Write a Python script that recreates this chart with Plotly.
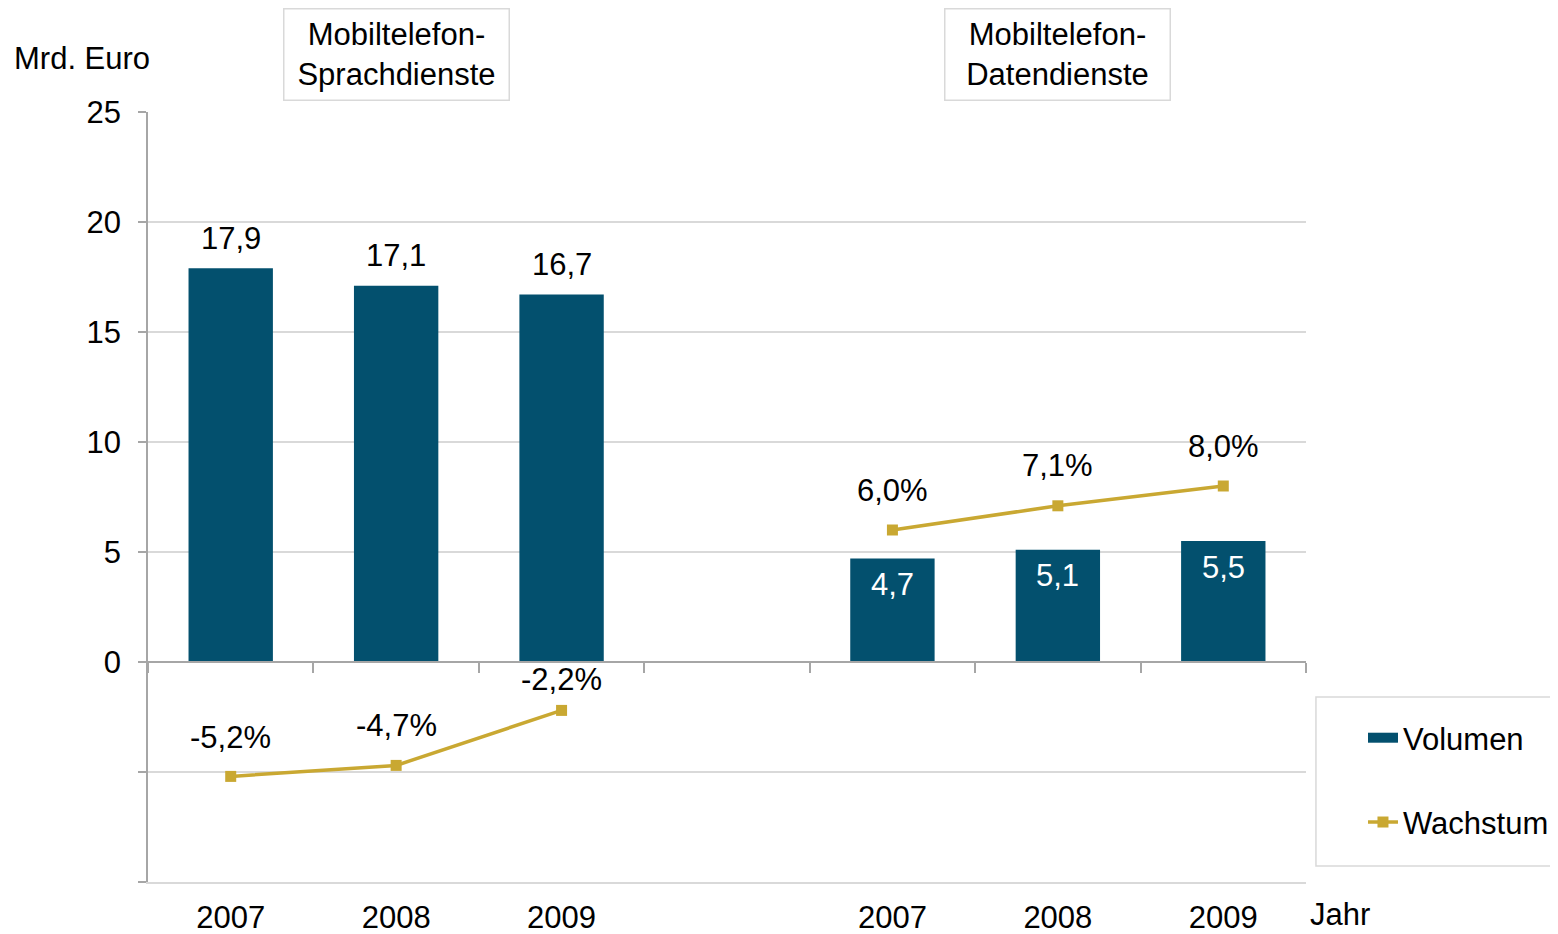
import plotly.graph_objects as go

# ---- data ----
segments = ["Mobiltelefon-Sprachdienste", "Mobiltelefon-Datendienste"]
years = ["2007", "2008", "2009"]
volumen_sprache = [17.9, 17.1, 16.7]
volumen_daten = [4.7, 5.1, 5.5]
wachstum_sprache = [-5.2, -4.7, -2.2]
wachstum_daten = [6.0, 7.1, 8.0]
y_ticks = [-10, -5, 0, 5, 10, 15, 20, 25]
y_unit = "Mrd. Euro"
x_unit = "Jahr"

# ---- styles ----
BAR = "#03506E"
LINE = "#C9A832"
GRID = "#D9D9D9"
AXIS = "#A6A6A6"
FONT = "Liberation Sans, Arial, sans-serif"
FS = 31

def de(v, pct=False):
    s = f"{v:.1f}".replace(".", ",")
    return s + "%" if pct else s

volumes = [volumen_sprache, volumen_daten]
growths = [wachstum_sprache, wachstum_daten]
slot_gap = len(years) + 1
n_slots = len(segments) * slot_gap - 1

bx, by, lx, ly, tickvals, ticktext = [], [], [], [], [], []
for g in range(len(segments)):
    for i, yr in enumerate(years):
        s = g * slot_gap + i
        bx.append(s); by.append(volumes[g][i])
        lx.append(s); ly.append(growths[g][i])
        tickvals.append(s); ticktext.append(yr)
    if g < len(segments) - 1:
        lx.append(None); ly.append(None)

fig = go.Figure()
fig.add_trace(go.Bar(x=bx, y=by, width=0.51, marker=dict(color=BAR, line=dict(width=0)),
                     name="Volumen", showlegend=False, hoverinfo="skip"))
# legend swatch for the bars (wide rectangle like the reference)
fig.add_trace(go.Scatter(x=[None], y=[None], mode="lines", name="Volumen", legendgroup="a",
                         line=dict(color=BAR, width=18), hoverinfo="skip"))
fig.add_trace(go.Scatter(x=lx, y=ly, mode="lines+markers", name="Wachstum", legendgroup="b",
                         line=dict(color=LINE, width=3.5),
                         marker=dict(symbol="square", size=11, color=LINE),
                         hoverinfo="skip", connectgaps=False))
# dummy trace for the zero-line axis with category separators
fig.add_trace(go.Scatter(x=[None], y=[None], xaxis="x2", showlegend=False, hoverinfo="skip"))

annotations = []
# bar value labels
for g in range(len(segments)):
    for i in range(len(years)):
        s = g * slot_gap + i
        v = volumes[g][i]
        outside = g == 0
        annotations.append(dict(x=s, y=v, xref="x", yref="y", text=de(v), showarrow=False,
                                yanchor="middle", yshift=30 if outside else -26,
                                font=dict(size=FS, color="black" if outside else "white")))
# growth labels
shift = [[39, 40, 31], [40, 40, 40]]
for g in range(len(segments)):
    for i in range(len(years)):
        s = g * slot_gap + i
        v = growths[g][i]
        annotations.append(dict(x=s, y=v, xref="x", yref="y", text=de(v, True), showarrow=False,
                                yanchor="middle", yshift=shift[g][i],
                                font=dict(size=FS, color="black")))
# segment boxes
for g, seg in enumerate(segments):
    a, b = seg.split("-", 1)
    annotations.append(dict(x=g * slot_gap + 1, y=1.0753, xref="x", yref="paper",
                            text=f"{a}-<br>{b}", showarrow=False, yanchor="middle",
                            bordercolor=GRID, borderwidth=1.5, borderpad=2,
                            width=220, height=86, bgcolor="white",
                            font=dict(size=FS, color="black")))
annotations.append(dict(x=-0.1175, y=1.070, xref="paper", yref="paper", text=y_unit,
                        showarrow=False, xanchor="left", yanchor="middle",
                        font=dict(size=FS, color="black")))
annotations.append(dict(x=1.0017, y=-0.0416, xref="paper", yref="paper", text=x_unit,
                        showarrow=False, xanchor="left", yanchor="middle",
                        font=dict(size=FS, color="black")))

# legend frame
shapes = [dict(type="rect", xref="paper", yref="paper", x0=1.0086, x1=1.222,
               y0=0.0208, y1=0.2403, line=dict(color=GRID, width=1.5), fillcolor="white",
               layer="below")]

# page body adds an 8px offset; figure sized so the plot lands at the same pixels
fig.update_layout(
    width=1550, height=926,
    margin=dict(l=140, r=252, t=104, b=52, autoexpand=False),
    plot_bgcolor="white", paper_bgcolor="white",
    font=dict(family=FONT, size=FS, color="black"),
    showlegend=True,
    legend=dict(x=1.0492, y=0.222, xanchor="left", yanchor="top",
                borderwidth=0, bgcolor="rgba(0,0,0,0)",
                font=dict(size=FS, color="black"), traceorder="grouped",
                tracegroupgap=41),
    annotations=annotations,
    shapes=shapes,
    xaxis=dict(range=[-0.5, n_slots - 0.5], tickvals=tickvals, ticktext=ticktext,
               showgrid=False, zeroline=False, ticks="", showline=True,
               linecolor=GRID, linewidth=1.5, ticklabelstandoff=7, automargin=False,
               tickfont=dict(size=FS, color="black")),
    xaxis2=dict(overlaying="x", anchor="free", position=10 / 35, side="bottom",
                range=[-0.5, n_slots - 0.5],
                tickvals=[k - 0.5 for k in range(n_slots + 1)],
                showticklabels=False, ticks="outside", ticklen=10, tickwidth=1.5,
                tickcolor=AXIS, showline=True, linecolor=AXIS, linewidth=1.5,
                showgrid=False, zeroline=False, automargin=False),
    yaxis=dict(range=[-10, 25], tickvals=y_ticks,
               ticktext=[str(t) if t >= 0 else "" for t in y_ticks],
               showgrid=True, gridcolor=GRID, gridwidth=1.5, zeroline=False,
               showline=True, linecolor=AXIS, linewidth=1.5, automargin=False,
               ticks="outside", ticklen=8, tickwidth=1.5, tickcolor=AXIS,
               ticklabelstandoff=11, tickfont=dict(size=FS, color="black")),
)

fig.write_html("out.html")
